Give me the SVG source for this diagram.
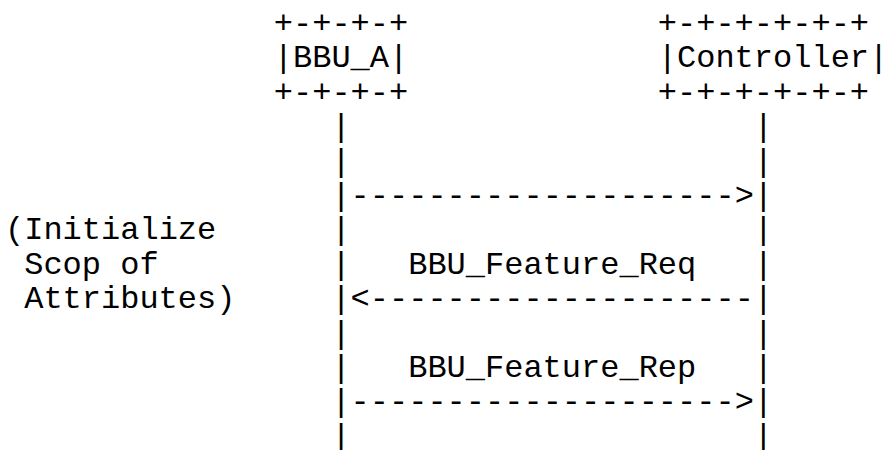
<svg xmlns="http://www.w3.org/2000/svg" width="885" height="450" viewBox="0 0 885 450">
<style>
text{font-family:"Liberation Mono","Courier New",monospace;font-size:32px;fill:#000;white-space:pre}
</style>
<rect width="885" height="450" fill="#fff"/>
<g id="BBU_A">
<text x="273.8" y="32.9">+-+-+-+</text>
<text x="273.8" y="67.3">|BBU_A|</text>
<text x="273.8" y="101.7">+-+-+-+</text>
</g>
<g id="Controller">
<text x="657.8" y="32.9">+-+-+-+-+-+</text>
<text x="657.8" y="67.3">|Controller|</text>
<text x="657.8" y="101.7">+-+-+-+-+-+</text>
</g>
<g id="note">
<text x="5" y="239.3">(Initialize</text>
<text x="24.2" y="273.7">Scop of</text>
<text x="24.2" y="308.1">Attributes)</text>
</g>
<g id="connectors">
<text x="331.4" y="136.1">|</text><text x="753.8" y="136.1">|</text>
<text x="331.4" y="170.5">|</text><text x="753.8" y="170.5">|</text>
<text x="331.4" y="204.9">|--------------------&gt;|</text>
<text x="331.4" y="239.3">|</text><text x="753.8" y="239.3">|</text>
<text x="331.4" y="273.7">|</text><text x="753.8" y="273.7">|</text>
<text x="331.4" y="308.1">|&lt;--------------------|</text>
<text x="331.4" y="342.5">|</text><text x="753.8" y="342.5">|</text>
<text x="331.4" y="376.9">|</text><text x="753.8" y="376.9">|</text>
<text x="331.4" y="411.3">|--------------------&gt;|</text>
<text x="331.4" y="445.7">|</text><text x="753.8" y="445.7">|</text>
<text x="408.2" y="273.7">BBU_Feature_Req</text>
<text x="408.2" y="376.9">BBU_Feature_Rep</text>
</g>
</svg>
